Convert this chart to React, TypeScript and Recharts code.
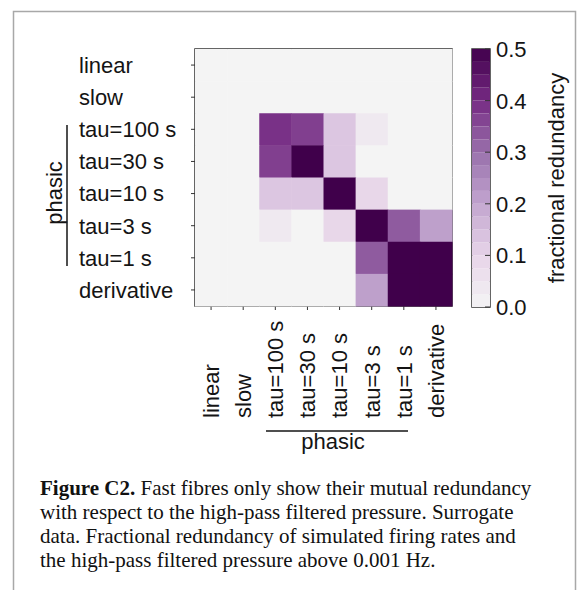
import React from 'react';
import {
  ScatterChart,
  Scatter,
  XAxis,
  YAxis,
  ReferenceArea,
  BarChart,
  Bar,
} from 'recharts';

// row / column names, top to bottom and left to right
const labels = ['linear', 'slow', 'tau=100 s', 'tau=30 s', 'tau=10 s', 'tau=3 s', 'tau=1 s', 'derivative'];
const tickPos = [0.5, 1.5, 2.5, 3.5, 4.5, 5.5, 6.5, 7.5];

// fractional redundancy (colour saturates at 0.5)
const rowLinear = [0, 0, 0, 0, 0, 0, 0, 0];
const rowSlow = [0, 0, 0, 0, 0, 0, 0, 0];
const rowTau100 = [0, 0, 0.39, 0.37, 0.13, 0.035, 0, 0];
const rowTau30 = [0, 0, 0.37, 0.5, 0.13, 0, 0, 0];
const rowTau10 = [0, 0, 0.13, 0.13, 0.5, 0.09, 0, 0];
const rowTau3 = [0, 0, 0.035, 0, 0.09, 0.5, 0.33, 0.21];
const rowTau1 = [0, 0, 0, 0, 0, 0.33, 0.5, 0.5];
const rowDerivative = [0, 0, 0, 0, 0, 0.21, 0.5, 0.5];
const matrix = [rowLinear, rowSlow, rowTau100, rowTau30, rowTau10, rowTau3, rowTau1, rowDerivative];

// colorbar
const cbBounds = [0, 0.025, 0.05, 0.075, 0.1, 0.125, 0.15, 0.175, 0.2, 0.225, 0.25,
  0.275, 0.3, 0.325, 0.35, 0.375, 0.4, 0.425, 0.45, 0.475, 0.5];
const cbTicks = [0, 0.1, 0.2, 0.3, 0.4, 0.5];

const STOPS = ['#f4f4f4', '#e7d4e8', '#c2a5cf', '#9970ab', '#762a83', '#40004b'];
const VMAX = 0.5;

function hex(c: string) {
  return [1, 3, 5].map((i) => parseInt(c.slice(i, i + 2), 16));
}
function cmap(v: number) {
  const t = Math.max(0, Math.min(1, v / VMAX)) * (STOPS.length - 1);
  const i = Math.min(Math.floor(t), STOPS.length - 2);
  const f = t - i;
  const a = hex(STOPS[i]);
  const b = hex(STOPS[i + 1]);
  const c = a.map((x, k) => Math.round(x + (b[k] - x) * f));
  return `rgb(${c[0]},${c[1]},${c[2]})`;
}

const cells = matrix.flatMap((row, r) =>
  row.map((v, c) => ({ x: tickPos[c], y: tickPos[r], v }))
);

const cbRow: Record<string, number | string> = { name: 'cb' };
cbBounds.slice(1).forEach((b, i) => {
  cbRow[`b${i}`] = b - cbBounds[i];
});
const cbData = [cbRow];

const FONT = 'Liberation Sans, Arial, Helvetica, sans-serif';
const TXT = '#141414';
const FS = 22;

// layout
const W = 581;
const PLOT_L = 195;
const PLOT_R = 452;
const PLOT_T = 49;
const PLOT_B = 306;
const CHART_H = 470;
const CELL = (PLOT_R - PLOT_L) / 8;

const YTick = (props: any) => {
  const { y, payload } = props;
  const i = tickPos.indexOf(payload.value);
  return (
    <text x={79} y={y} dy="0.36em" textAnchor="start" fontFamily={FONT} fontSize={FS} fill={TXT}>
      {labels[i]}
    </text>
  );
};

const XTick = (props: any) => {
  const { x, payload } = props;
  const i = tickPos.indexOf(payload.value);
  const y = 418;
  return (
    <text
      x={x}
      y={y}
      dy="0.36em"
      textAnchor="start"
      transform={`rotate(-90, ${x}, ${y})`}
      fontFamily={FONT}
      fontSize={FS}
      fill={TXT}
    >
      {labels[i]}
    </text>
  );
};

const CbTick = (props: any) => {
  const { x, y, payload } = props;
  return (
    <g>
      <line x1={x - 5} x2={x} y1={y} y2={y} stroke="#333" strokeWidth={1} />
      <text x={x + 6} y={y} dy="0.36em" textAnchor="start" fontFamily={FONT} fontSize={FS} fill={TXT}>
        {payload.value.toFixed(1)}
      </text>
    </g>
  );
};

const Cell = (props: any) => {
  const { cx, cy, payload } = props;
  return (
    <rect
      x={cx - CELL / 2}
      y={cy - CELL / 2}
      width={CELL + 0.5}
      height={CELL + 0.5}
      fill={cmap(payload.v)}
    />
  );
};

export default function App() {
  return (
    <div style={{ position: 'absolute', left: 0, top: 0, width: W, height: 590, background: '#fff' }}>
      <div style={{ position: 'absolute', left: 0, top: 0 }}>
        <ScatterChart
          width={W}
          height={CHART_H}
          margin={{ top: PLOT_T, right: W - PLOT_R, bottom: 0, left: 0 }}
        >
          <XAxis
            type="number"
            dataKey="x"
            domain={[0, 8]}
            ticks={tickPos}
            interval={0}
            height={CHART_H - PLOT_B}
            tick={<XTick />}
            tickSize={4}
            tickLine={{ stroke: '#333' }}
            axisLine={false}
          />
          <YAxis
            type="number"
            dataKey="y"
            domain={[0, 8]}
            reversed
            ticks={tickPos}
            interval={0}
            width={PLOT_L}
            tick={<YTick />}
            tickSize={4}
            tickLine={{ stroke: '#333' }}
            axisLine={false}
          />
          <Scatter data={cells} shape={<Cell />} isAnimationActive={false} />
          <ReferenceArea x1={0} x2={8} y1={0} y2={8} fill="none" stroke="#333" strokeWidth={1.5} />
        </ScatterChart>
      </div>

      <div style={{ position: 'absolute', left: 440, top: 0 }}>
        <BarChart
          width={W - 440}
          height={330}
          data={cbData}
          barCategoryGap={0}
          margin={{ top: PLOT_T, right: 0, bottom: 330 - 307, left: 472 - 440 }}
        >
          <XAxis dataKey="name" hide />
          <YAxis
            orientation="right"
            domain={[0, 0.5]}
            ticks={cbTicks}
            interval={0}
            width={91}
            tickSize={0}
            tickMargin={0}
            axisLine={false}
            tickLine={false}
            tick={<CbTick />}
          />
          {cbBounds.slice(1).map((b, i) => (
            <Bar
              key={i}
              dataKey={`b${i}`}
              stackId="cb"
              fill={cmap((b + cbBounds[i]) / 2)}
              isAnimationActive={false}
            />
          ))}
          <ReferenceArea y1={0} y2={0.5} fill="none" stroke="#333" strokeWidth={1.5} />
        </BarChart>
      </div>

      <svg
        width={W}
        height={590}
        style={{ position: 'absolute', left: 0, top: 0, pointerEvents: 'none' }}
      >
        <polyline points="13.5,590 13.5,11.5 575.5,11.5 575.5,590" fill="none" stroke="#a8a8a8" strokeWidth={1.5} />
        <line x1={67} x2={67} y1={125} y2={266} stroke={TXT} strokeWidth={1.5} />
        <text
          x={62}
          y={193}
          textAnchor="middle"
          transform="rotate(-90, 62, 193)"
          fontFamily={FONT}
          fontSize={FS}
          fill={TXT}
        >
          phasic
        </text>
        <line x1={266} x2={408} y1={431} y2={431} stroke={TXT} strokeWidth={1.5} />
        <text x={333} y={449} textAnchor="middle" fontFamily={FONT} fontSize={FS} fill={TXT}>
          phasic
        </text>
        <text
          x={564}
          y={178}
          textAnchor="middle"
          transform="rotate(-90, 564, 178)"
          fontFamily={FONT}
          fontSize={FS}
          fill={TXT}
        >
          fractional redundancy
        </text>
      </svg>

      <div
        style={{
          position: 'absolute',
          left: 40,
          top: 476,
          fontFamily: 'Liberation Serif, Times New Roman, serif',
          fontSize: 21,
          lineHeight: '24px',
          color: '#111',
          whiteSpace: 'nowrap',
        }}
      >
        <b>Figure C2.</b> Fast fibres only show their mutual redundancy
        <br />
        with respect to the high-pass filtered pressure. Surrogate
        <br />
        data. Fractional redundancy of simulated firing rates and
        <br />
        the high-pass filtered pressure above 0.001 Hz.
      </div>
    </div>
  );
}
